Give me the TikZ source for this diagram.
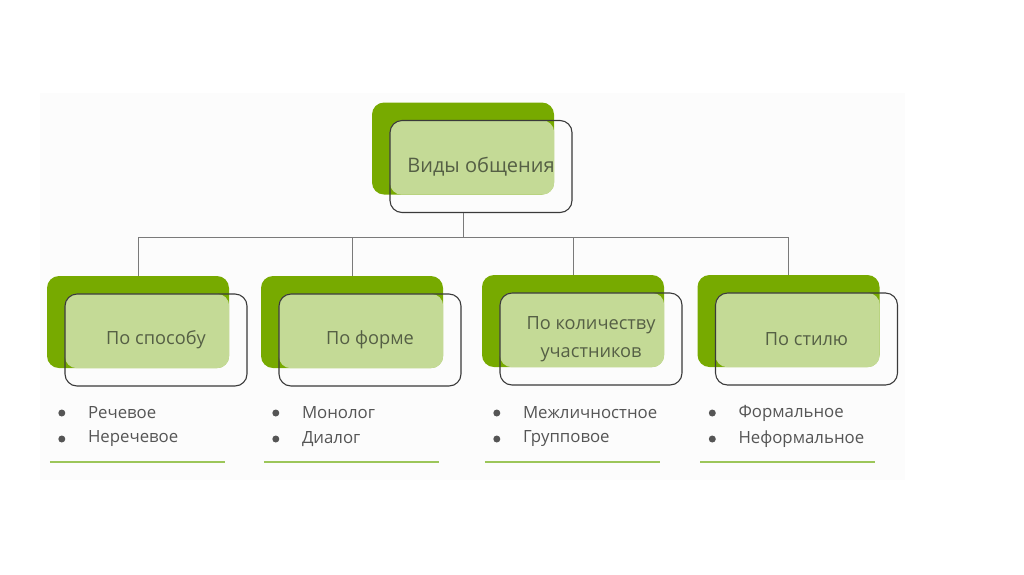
\documentclass[tikz,border=0pt]{standalone}
\usepackage{fontspec}
\setmainfont{Open Sans}
\usetikzlibrary{calc}
\definecolor{dkgreen}{HTML}{77AA00}
\definecolor{ltgreen}{HTML}{C4DA96}
\definecolor{outl}{HTML}{3A3A3A}
\definecolor{txt}{HTML}{555F45}
\definecolor{btxt}{HTML}{555555}
\definecolor{conn}{HTML}{7A7A7A}
\definecolor{rule}{HTML}{9CC65A}
\tikzset{
  darkbox/.style={fill=dkgreen, rounded corners=12pt, minimum width=182pt, minimum height=92pt, inner sep=0pt},
  outbox/.style={draw=outl, line width=1.1pt, rounded corners=12pt, minimum width=182pt, minimum height=92pt, inner sep=0pt, align=center, text=txt},
  lightfill/.style={fill=ltgreen, rounded corners=12pt},
  connline/.style={draw=conn, line width=0.9pt},
  bul/.style={circle, fill=btxt, inner sep=0pt, minimum size=7pt},
  btext/.style={anchor=west, text=btxt, font=\fontsize{16.8}{20}\selectfont, inner sep=0pt},
  rulel/.style={draw=rule, line width=1.6pt},
}
\begin{document}
\begin{tikzpicture}[x=1pt,y=-1pt]
\useasboundingbox (0,0) rectangle (1024,574);
\fill[white] (0,0) rectangle (1024,574);
\fill[black!1.2] (40,93) rectangle (905,480);
% top
\node[darkbox] (top) at (463,148.5) {};
\fill[lightfill] ($(top.north west)+(18,18)$) rectangle (top.south east);
\node[outbox, font=\fontsize{20}{24}\selectfont] (topo) at ($(top.center)+(18,18)$) {Виды общения};
% children dark boxes
\node[darkbox] (c1) at (138,322) {};
\node[darkbox] (c2) at (352,322) {};
\node[darkbox] (c3) at (573,321) {};
\node[darkbox] (c4) at (788.5,321) {};
\foreach \c in {c1,c2,c3,c4}{
  \fill[lightfill] ($(\c.north west)+(18,18)$) rectangle (\c.south east);
}
\node[outbox, font=\fontsize{18.2}{22}\selectfont] (o1) at ($(c1.center)+(18,18)$) {По способу};
\node[outbox, font=\fontsize{18.2}{22}\selectfont] (o2) at ($(c2.center)+(18,18)$) {По форме};
\node[outbox, font=\fontsize{18.2}{27.5}\selectfont] (o3) at ($(c3.center)+(18,18)$) {По количеству\\участников};
\node[outbox, font=\fontsize{18.2}{22}\selectfont] (o4) at ($(c4.center)+(18,18)$) {По стилю};
% connectors
\coordinate (bus) at (463,237);
\draw[connline] (topo.south -| top.south) -- (bus);
\draw[connline] (c1.north |- bus) -- (c4.north |- bus);
\foreach \c in {c1,c2,c3,c4}{
  \draw[connline] (\c.north |- bus) -- (\c.north);
}
% bullet lists
\foreach \c/\a/\b in {c1/Речевое/Неречевое, c2/Монолог/Диалог, c3/Межличностное/Групповое, c4/Формальное/Неформальное}{
  \node[bul] at ($(\c.west |- 0,413)+(15,0)$) {};
  \node[bul] at ($(\c.west |- 0,439)+(15,0)$) {};
  \node[btext] at ($(\c.west |- 0,413)+(41,0)$) {\a};
  \node[btext] at ($(\c.west |- 0,439)+(41,0)$) {\b};
  \draw[rulel] ($(\c.west |- 0,462)+(3,0)$) -- ($(\c.west |- 0,462)+(178,0)$);
}
\end{tikzpicture}
\end{document}
